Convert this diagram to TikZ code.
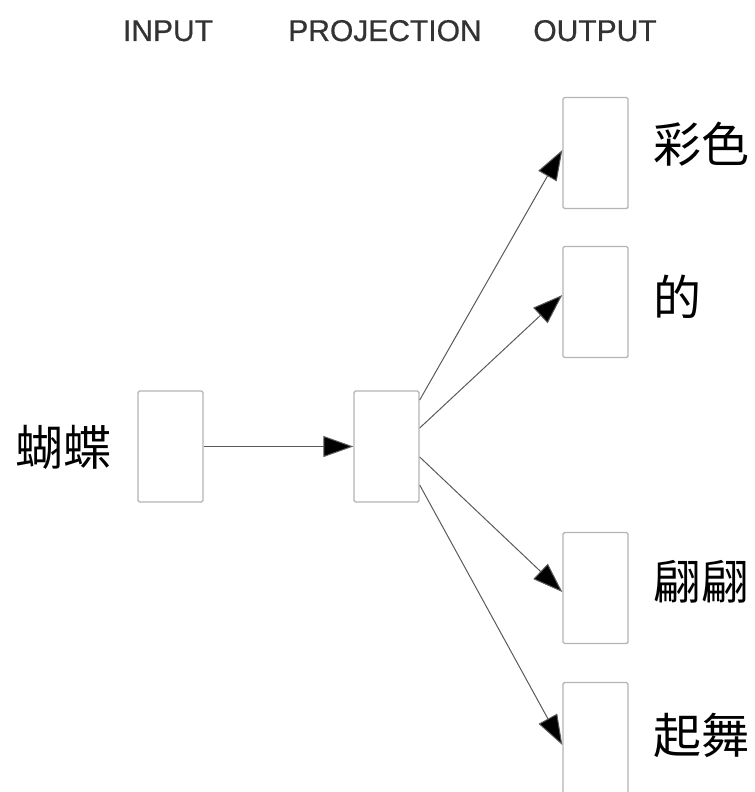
\documentclass[tikz,border=0pt]{standalone}
\usepackage{fontspec}
\newfontface\headfont[FakeBold=0.6]{Liberation Sans}
\newfontfamily\cjk{Noto Sans CJK TC}
\usetikzlibrary{arrows.meta}
\definecolor{boxgray}{HTML}{B4B4B4}
\definecolor{linegray}{HTML}{5A5A5A}
\definecolor{headgray}{HTML}{333333}
\tikzset{
  unitbox/.style={draw=boxgray, line width=1.4bp, rounded corners=1.5bp, fill=white,
    minimum width=65bp, minimum height=111bp, inner sep=0pt},
  header/.style={font=\headfont\fontsize{30bp}{30bp}\selectfont, text=headgray, anchor=base, inner sep=0pt},
  word/.style={font=\cjk\fontsize{48bp}{48bp}\selectfont, inner sep=0pt},
  conn/.style={draw=linegray, line width=1bp, -{Triangle[length=30bp,width=21bp,fill=black]}}
}
\begin{document}
\begin{tikzpicture}[x=1bp,y=-1bp]
\useasboundingbox (0,0) rectangle (755,792);
% headers
\node[header] (hin) at (168,41) {INPUT};
\node[header] (hproj) at (385,41) {PROJECTION};
\node[header] (hout) at (595,41) {OUTPUT};
% boxes
\node[unitbox] (inp) at (170.5,446.5) {};
\node[unitbox] (proj) at (386.5,446.5) {};
\node[unitbox] (o1) at (595.5,153) {};
\node[unitbox] (o2) at (595.5,302) {};
\node[unitbox] (o3) at (595.5,588) {};
\node[unitbox] (o4) at (595.5,738) {};
% words
\node[word, anchor=east] (w0) at (112,447) {蝴蝶};
\node[word, anchor=west] (w1) at (653,144) {彩色};
\node[word, anchor=west] (w2) at (653,297) {的};
\node[word, anchor=west] (w3) at (653,582) {翩翩};
\node[word, anchor=west] (w4) at (653,735) {起舞};
% connection points
\coordinate (s1) at ([yshift=46.5bp]proj.east);
\coordinate (s2) at ([yshift=18.5bp]proj.east);
\coordinate (s3) at ([yshift=-10.5bp]proj.east);
\coordinate (s4) at ([yshift=-38.5bp]proj.east);
\coordinate (e1) at ([yshift=3bp]o1.west);
\coordinate (e2) at ([yshift=7bp]o2.west);
\coordinate (e3) at ([yshift=-4bp]o3.west);
\coordinate (e4) at ([yshift=-7bp]o4.west);
% connectors
\draw[conn] (inp.east) -- (proj.west);
\draw[conn] (s1) -- (e1);
\draw[conn] (s2) -- (e2);
\draw[conn] (s3) -- (e3);
\draw[conn] (s4) -- (e4);
\end{tikzpicture}
\end{document}
